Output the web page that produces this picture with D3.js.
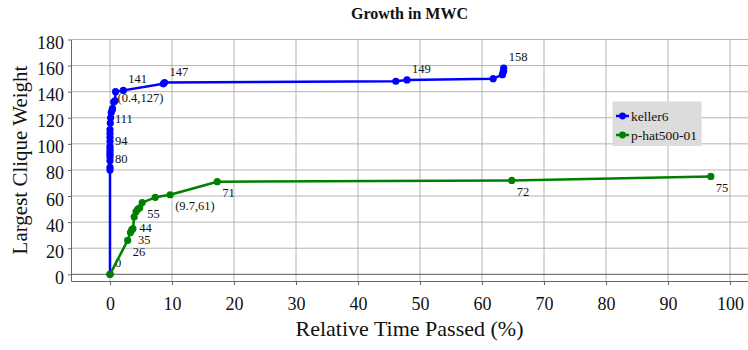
<!DOCTYPE html>
<html>
<head>
<meta charset="utf-8">
<script src="https://cdn.jsdelivr.net/npm/d3@7"></script>
<style>
  html, body { margin: 0; padding: 0; background: #fff; }
  svg { display: block; }
  svg text { font-family: "Liberation Serif", "Times New Roman", serif; }
</style>
</head>
<body>
<svg id="chart" width="748" height="350"></svg>
<script>
// keller6: relative time (%) and clique weight at each improvement
const kellerTime   = [0, 0, 0, 0, 0, 0, 0, 0, 0, 0, 0, 0, 0, 0.05, 0.1, 0.2, 0.35, 0.4, 0.6, 0.8, 0.9, 2.15, 8.6, 8.8, 46.1, 47.9, 61.8, 63.3, 63.4, 63.5, 63.5];
const kellerWeight = [0, 80, 82, 87, 90, 92, 94, 96, 98, 102, 105, 108, 111, 116, 120, 124, 126, 127, 132, 133, 140, 141, 146, 147, 148, 149, 150, 153, 155, 156, 158];
// annotated keller6 points (index into the arrays above) and their texts
const kellerLabelIdx  = [0, 1, 6, 12, 17, 21, 23, 25, 30];
const kellerLabelText = ["0", "80", "94", "111", "(0.4,127)", "141", "147", "149", "158"];

// p-hat500-01
const phatTime   = [0, 2.85, 3.3, 3.5, 3.7, 3.9, 4.2, 4.5, 4.8, 5.2, 7.3, 9.7, 17.3, 64.8, 96.9];
const phatWeight = [0, 26, 32, 34, 35, 44, 48, 50, 51, 55, 59, 61, 71, 72, 75];
const phatLabelIdx  = [0, 1, 4, 5, 9, 11, 12, 13, 14];
const phatLabelText = ["0", "26", "35", "44", "55", "(9.7,61)", "71", "72", "75"];

const xTicks = [0, 10, 20, 30, 40, 50, 60, 70, 80, 90, 100];
const yTicks = [0, 20, 40, 60, 80, 100, 120, 140, 160, 180];

const seriesNames  = ["keller6", "p-hat500-01"];
const seriesColors = ["#0000ff", "#008000"];

const FONT = "Liberation Serif, Times New Roman, serif";

const svg = d3.select("#chart");
const plot = { left: 71, right: 748, top: 39.5, bottom: 281 };

const x = d3.scaleLinear().domain([-6.29, 102.9]).range([plot.left, plot.right]);
const y = d3.scaleLinear().domain([-5.13, 180]).range([plot.bottom, plot.top]);

svg.append("defs").append("clipPath").attr("id", "plotClip")
  .append("rect")
  .attr("x", plot.left).attr("y", plot.top)
  .attr("width", plot.right - plot.left).attr("height", plot.bottom - plot.top);

// grid
const grid = svg.append("g");
grid.selectAll("line.v").data(xTicks).join("line")
  .attr("class", "v")
  .attr("x1", d => x(d)).attr("x2", d => x(d))
  .attr("y1", plot.top).attr("y2", plot.bottom)
  .attr("stroke", "#b4b4b4").attr("stroke-width", 1);
grid.selectAll("line.h").data(yTicks).join("line")
  .attr("class", "h")
  .attr("x1", plot.left).attr("x2", plot.right)
  .attr("y1", d => y(d)).attr("y2", d => y(d))
  .attr("stroke", d => d === 0 ? "#555" : "#b4b4b4").attr("stroke-width", 1);

// axes
const xAxis = svg.append("g")
  .attr("transform", `translate(0,${plot.bottom})`)
  .call(d3.axisBottom(x).tickValues(xTicks).tickSize(4).tickPadding(12).tickSizeOuter(0));
const yAxis = svg.append("g")
  .attr("transform", `translate(${plot.left},0)`)
  .call(d3.axisLeft(y).tickValues(yTicks).tickSize(3).tickPadding(4).tickSizeOuter(0));

[xAxis, yAxis].forEach(a => {
  a.attr("font-family", FONT).attr("font-size", 18);
  a.select(".domain").attr("stroke", "#666");
  a.selectAll(".tick line").attr("stroke", "#666");
  a.selectAll(".tick text").attr("fill", "#111");
});
yAxis.selectAll(".tick text").attr("dy", "0.5em");

// series
const series = [
  { t: kellerTime, w: kellerWeight, li: kellerLabelIdx, lt: kellerLabelText, above: true },
  { t: phatTime,   w: phatWeight,   li: phatLabelIdx,   lt: phatLabelText,   above: false }
];

const line = d3.line().x(d => x(d[0])).y(d => y(d[1]));
const marks = svg.append("g").attr("clip-path", "url(#plotClip)");

series.forEach((s, i) => {
  const pts = s.t.map((t, k) => [t, s.w[k]]);
  const g = marks.append("g");
  g.append("path").datum(pts)
    .attr("d", line)
    .attr("fill", "none")
    .attr("stroke", seriesColors[i])
    .attr("stroke-width", 2.5)
    .attr("stroke-linejoin", "round");
  g.selectAll("circle").data(pts).join("circle")
    .attr("cx", d => x(d[0])).attr("cy", d => y(d[1]))
    .attr("r", 3.6).attr("fill", seriesColors[i]);
  g.selectAll("text").data(s.li.map((k, j) => ({ p: pts[k], txt: s.lt[j] }))).join("text")
    .attr("x", d => x(d.p[0]) + 5)
    .attr("y", d => y(d.p[1]) + (s.above ? -7 : 15.5))
    .attr("font-family", FONT)
    .attr("font-size", 12.5)
    .attr("fill", "#111")
    .text(d => d.txt);
});

// title
svg.append("text")
  .attr("x", (plot.left + plot.right) / 2).attr("y", 19)
  .attr("text-anchor", "middle")
  .attr("font-family", FONT)
  .attr("font-size", 16).attr("font-weight", "bold")
  .attr("fill", "#111")
  .text("Growth in MWC");

// axis titles
svg.append("text")
  .attr("x", (plot.left + plot.right) / 2).attr("y", 336)
  .attr("text-anchor", "middle")
  .attr("font-family", FONT)
  .attr("font-size", 22).attr("fill", "#111")
  .text("Relative Time Passed (%)");
svg.append("text")
  .attr("transform", "translate(27,160) rotate(-90)")
  .attr("text-anchor", "middle")
  .attr("font-family", FONT)
  .attr("font-size", 21).attr("fill", "#111")
  .text("Largest Clique Weight");

// legend
const legend = svg.append("g").attr("transform", "translate(612.5,101.5)");
legend.append("rect").attr("width", 89).attr("height", 44.5).attr("fill", "#dcdcdc");
seriesNames.forEach((name, i) => {
  const cy = 14.5 + i * 19;
  legend.append("line")
    .attr("x1", 3.5).attr("x2", 16.5).attr("y1", cy).attr("y2", cy)
    .attr("stroke", seriesColors[i]).attr("stroke-width", 2.5);
  legend.append("circle").attr("cx", 10).attr("cy", cy).attr("r", 3.4).attr("fill", seriesColors[i]);
  legend.append("text")
    .attr("x", 18.5).attr("y", cy + 4.5)
    .attr("font-family", FONT)
    .attr("font-size", 13.5).attr("fill", "#111")
    .text(name);
});
</script>
</body>
</html>
